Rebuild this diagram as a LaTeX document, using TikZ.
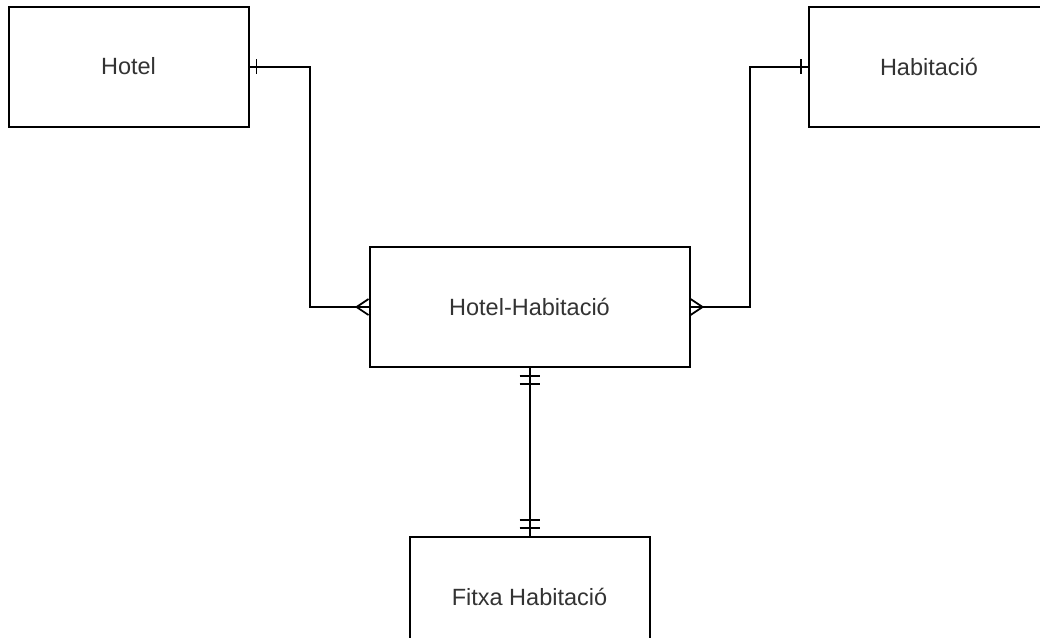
\documentclass[tikz,border=0pt]{standalone}
\usepackage{fontspec}
\setmainfont{Liberation Sans}
\usetikzlibrary{calc}
\begin{document}
\begin{tikzpicture}[x=1pt,y=-1pt,
  entity/.style={draw=black,line width=2pt,fill=white,minimum width=240pt,minimum height=120pt,
    inner sep=0pt,font=\fontsize{23.5}{27}\selectfont,text=black!80},
  link/.style={draw=black,line width=2pt},
  cardmark/.style={draw=black,line width=1.8pt}]
  \fill[white] (0,0) rectangle (1040,637);
  \clip (0,0) rectangle (1040,637);

  % entities
  \node[entity] (hotel) at (128.5,66.5) {Hotel};
  \node[entity] (hab) at (929,66.5) {Habitació};
  \node[entity,minimum width=320pt] (hh) at (529.5,307) {Hotel-Habitació};
  \node[entity] (fitxa) at (529.5,597) {Fitxa Habitació};

  % relationships
  \draw[link] (hotel.east) -- ($(hotel.east)+(60,0)$) |- (hh.west);
  \draw[link] (hh.east) -- ($(hh.east)+(59,0)$) |- (hab.west);
  \draw[link] (hh.south) -- (fitxa.north);

  % one (single bar)
  \draw[cardmark] ($(hotel.east)+(7,-7.5)$) -- ($(hotel.east)+(7,7.5)$);
  \draw[cardmark] ($(hab.west)+(-7,-7.5)$) -- ($(hab.west)+(-7,7.5)$);

  % many (crow's foot)
  \draw[cardmark] ($(hh.west)+(0,-8)$) -- ($(hh.west)+(-12,0)$) -- ($(hh.west)+(0,8)$);
  \draw[cardmark] ($(hh.east)+(0,-8)$) -- ($(hh.east)+(12,0)$) -- ($(hh.east)+(0,8)$);

  % one and only one (double bar)
  \draw[cardmark] ($(hh.south)+(-10,8)$) -- ($(hh.south)+(10,8)$);
  \draw[cardmark] ($(hh.south)+(-10,16)$) -- ($(hh.south)+(10,16)$);
  \draw[cardmark] ($(fitxa.north)+(-10,-8)$) -- ($(fitxa.north)+(10,-8)$);
  \draw[cardmark] ($(fitxa.north)+(-10,-16)$) -- ($(fitxa.north)+(10,-16)$);
\end{tikzpicture}
\end{document}
